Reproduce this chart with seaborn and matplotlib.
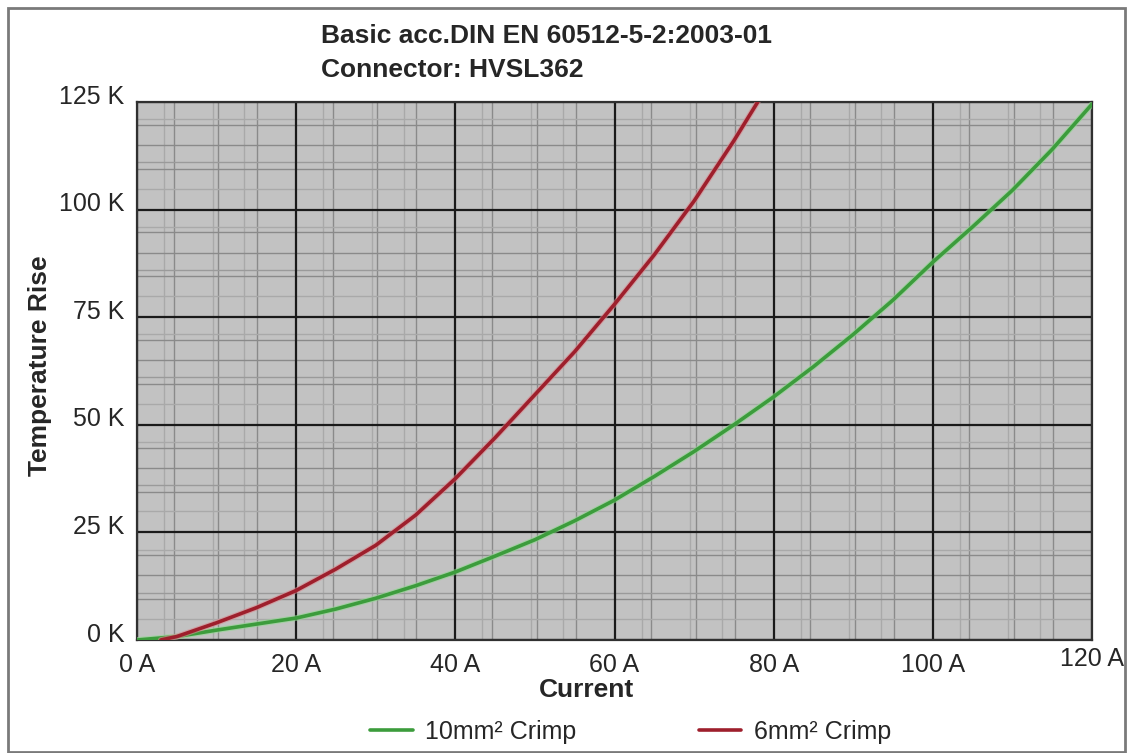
import numpy as np
import pandas as pd
import matplotlib
matplotlib.use("Agg")
import matplotlib.pyplot as plt
import matplotlib.patheffects as pe
from matplotlib.transforms import ScaledTranslation
from matplotlib.patches import Rectangle
from matplotlib.lines import Line2D
import seaborn as sns

# ---- data ----
current_10 = [0, 5, 10, 15, 20, 25, 30, 35, 40, 45, 50, 55, 60, 65, 70, 75, 80, 85, 90, 95, 100, 105, 110, 115, 120]
temp_10 = [0, 0.8, 2.3, 3.7, 5.1, 7.2, 9.7, 12.6, 15.8, 19.5, 23.3, 27.7, 32.5, 38.0, 43.8, 50.0, 56.5, 63.5, 71.0, 79.0, 87.8, 96.0, 104.5, 114.0, 124.5]
current_6 = [3, 5, 10, 15, 20, 25, 30, 35, 40, 45, 50, 55, 60, 65, 70, 75, 78]
temp_6 = [0, 0.8, 4.0, 7.5, 11.5, 16.5, 22.0, 29.0, 37.5, 47.0, 57.0, 67.0, 78.0, 89.5, 102.0, 116.0, 125.0]
series_labels = ["10mm\u00b2 Crimp", "6mm\u00b2 Crimp"]
x_ticks = [0, 20, 40, 60, 80, 100, 120]
y_ticks = [0, 25, 50, 75, 100, 125]
title_lines = ["Basic acc.DIN EN 60512-5-2:2003-01", "Connector: HVSL362"]
x_label = "Current"
y_label = "Temperature Rise"

df = pd.concat([
    pd.DataFrame({"Current": current_10, "Temp": temp_10, "Series": series_labels[0]}),
    pd.DataFrame({"Current": current_6, "Temp": temp_6, "Series": series_labels[1]}),
])

sns.set_theme(style="white")
plt.rcParams["font.family"] = ["Liberation Sans", "DejaVu Sans"]

W, H = 1131, 753
fig = plt.figure(figsize=(W / 100, H / 100), dpi=100)
ax = fig.add_axes([137 / W, 1 - 640 / H, (1092 - 137) / W, (640 - 102) / H])
ax.set_facecolor("#c2c2c2")

colors = {series_labels[0]: "#3c9c3c", series_labels[1]: "#9e1f2c"}
sns.lineplot(data=df, x="Current", y="Temp", hue="Series", palette=colors,
             linewidth=2.6, ax=ax, legend=False, sort=False, estimator=None)
halo = {series_labels[0]: "#8fd98f", series_labels[1]: "#d98a90"}
for line, s in zip(ax.get_lines(), series_labels):
    line.set_path_effects([pe.Stroke(linewidth=4.2, foreground=halo[s], alpha=0.6), pe.Normal()])
    line.set_zorder(5)

ax.set_xlim(0, 120)
ax.set_ylim(0, 125)
ax.set_xticks(x_ticks)
ax.set_yticks(y_ticks)
ax.set_xticklabels([f"{v} A" for v in x_ticks], fontsize=18)
ax.set_yticklabels([f"{v} K" for v in y_ticks], fontsize=18)
ax.tick_params(axis="both", length=0)
ax.tick_params(axis="x", pad=9)
ax.tick_params(axis="y", pad=9)
for lab in ax.get_yticklabels():
    lab.set_transform(lab.get_transform() + ScaledTranslation(0, 8 / 100, fig.dpi_scale_trans))
xl = ax.get_xticklabels()
xl[-1].set_transform(xl[-1].get_transform() + ScaledTranslation(0, 5 / 100, fig.dpi_scale_trans))
ax.set_xlabel("")
ax.set_ylabel("")

# minor grid (scanned-look double lines)
for base in range(0, 120, 20):
    for off, c in [(3.4, "#a9a9a9"), (4.6, "#8a8a8a"), (9.5, "#a9a9a9"), (10.2, "#8a8a8a"),
                   (13.5, "#a9a9a9"), (15.1, "#8a8a8a")]:
        ax.axvline(base + off, color=c, lw=1.0, zorder=1)
for base in range(0, 125, 25):
    for off, c in [(4.9, "#a9a9a9"), (9.5, "#8a8a8a"), (11.0, "#9a9a9a"), (15.0, "#8a8a8a"),
                   (19.7, "#8a8a8a"), (21.0, "#a9a9a9")]:
        ax.axhline(base + off, color=c, lw=1.0, zorder=1)
for v in x_ticks:
    ax.axvline(v, color="#1a1a1a", lw=1.6, zorder=2)
for v in y_ticks:
    ax.axhline(v, color="#1a1a1a", lw=1.6, zorder=2)
for sp in ax.spines.values():
    sp.set_color("#303030")
    sp.set_linewidth(1.6)

# titles and labels
fig.text(321 / W, 1 - 43 / H, title_lines[0], fontsize=19, fontweight="bold", ha="left", va="baseline")
fig.text(321 / W, 1 - 77 / H, title_lines[1], fontsize=19, fontweight="bold", ha="left", va="baseline")
fig.text(587 / W, 1 - 690 / H, x_label, fontsize=19, fontweight="bold", ha="center", va="center")
fig.text(40 / W, 1 - 366 / H, y_label, fontsize=19, fontweight="bold", ha="center", va="center", rotation=90)

# legend
handles = [Line2D([], [], color=colors[s], lw=2.6) for s in series_labels]
fig.legend(handles, series_labels, ncol=2, loc="center left", bbox_to_anchor=(370 / W, 1 - 732 / H),
           frameon=False, fontsize=18, handlelength=1.7, handletextpad=0.5, columnspacing=4.9,
           borderpad=0, borderaxespad=0)

# outer frame
fig.patches.append(Rectangle((8 / W, 1 / H), (1125 - 8) / W, (745 - 1) / H, transform=fig.transFigure,
                             fill=False, edgecolor="#7a7a7a", lw=2))

fig.savefig("out.png", dpi=100)
